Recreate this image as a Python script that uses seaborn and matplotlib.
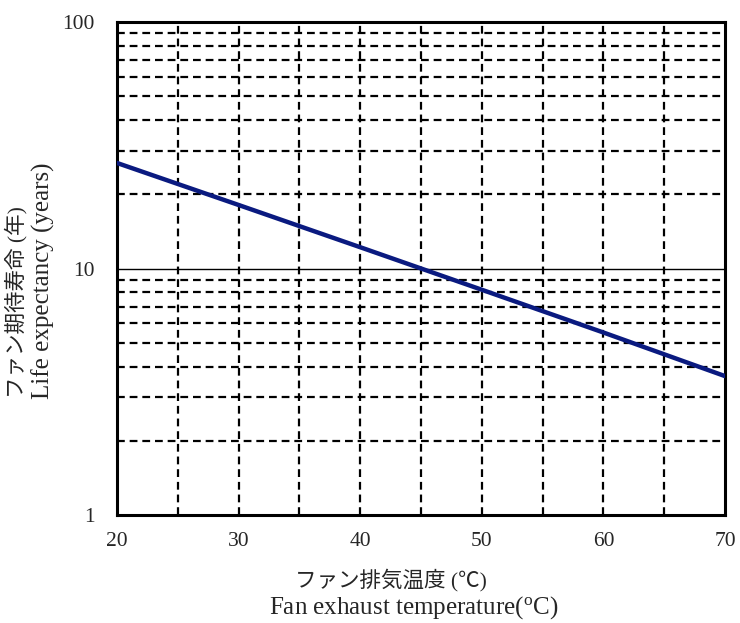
import matplotlib
matplotlib.use("Agg")
import matplotlib.pyplot as plt
import seaborn as sns
import pandas as pd
from matplotlib.ticker import FixedLocator, NullFormatter

# values
temperature = [20, 30, 40, 50, 60, 70]
life_years = [26.8, 18.1, 12.2, 8.2, 5.5, 3.66]

x_ticks = [20, 30, 40, 50, 60, 70]
x_minor = [25, 35, 45, 55, 65]
y_major = [1, 10, 100]
y_minor = [2, 3, 4, 5, 6, 7, 8, 9, 20, 30, 40, 50, 60, 70, 80, 90]

sns.set_style("white")
plt.rcParams['font.family'] = ['Liberation Serif', 'Noto Sans CJK JP']
plt.rcParams['mathtext.fontset'] = 'custom'
plt.rcParams['mathtext.rm'] = 'Liberation Serif'

df = pd.DataFrame({"temp": temperature, "life": life_years})

W, H = 740, 623
fig = plt.figure(figsize=(W / 100, H / 100), dpi=100)
ax = fig.add_axes([117 / W, 1 - 515 / H, (725 - 117) / W, (515 - 22) / H])

ax.set_yscale("log")
ax.set_xlim(20, 70)
ax.set_ylim(1, 100)

# grid
for x in x_ticks[1:-1] + x_minor:
    ax.axvline(x, color="black", lw=1.6, ls=(0, (3.5, 2.2)), zorder=1)
for y in y_minor:
    ax.axhline(y, color="black", lw=1.6, ls=(0, (3.5, 2.2)), zorder=1)
ax.axhline(10, color="black", lw=1.0, zorder=1)

sns.lineplot(data=df, x="temp", y="life", ax=ax, color="#0a1a80", lw=3.2, zorder=3)

ax.xaxis.set_major_locator(FixedLocator(x_ticks))
ax.yaxis.set_major_locator(FixedLocator(y_major))
ax.yaxis.set_minor_locator(FixedLocator([]))
ax.yaxis.set_minor_formatter(NullFormatter())
ax.set_yticklabels(["1", "10", "100"])
ax.tick_params(axis="x", labelsize=15.5, length=0, pad=12)
ax.tick_params(axis="y", labelsize=15.5, length=0, pad=16)
ax.set_xlabel("")
ax.set_ylabel("")

for s in ax.spines.values():
    s.set_visible(True)
    s.set_color("black")
    s.set_linewidth(2.2)

# axis titles: Japanese and English lines placed separately
fig.text(391 / W, 1 - 580 / H, "ファン排気温度 (℃)", fontsize=15.5, ha="center", va="center")
fig.text(414 / W, 1 - 608 / H, "Fan exhaust temperature($\\mathrm{^o}$C)", fontsize=18, ha="center", va="center")
fig.text(16 / W, 1 - 302 / H, "ファン期待寿命 (年)", fontsize=15.5, ha="center", va="center", rotation=90)
fig.text(43 / W, 1 - 281 / H, "Life expectancy (years)", fontsize=18, ha="center", va="center", rotation=90)

fig.savefig("out.png", dpi=100)
